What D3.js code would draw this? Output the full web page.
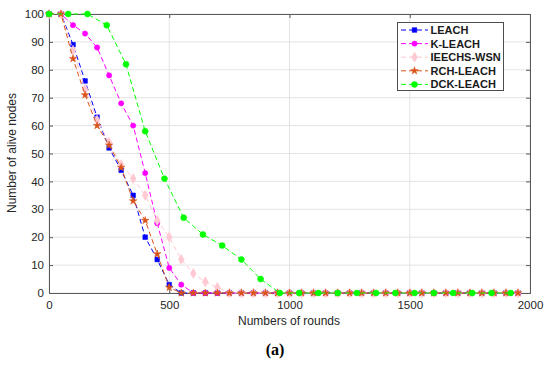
<!DOCTYPE html>
<html><head><meta charset="utf-8">
<script src="https://cdn.jsdelivr.net/npm/d3@7"></script>
<style>body{margin:0;background:#fff;} svg{display:block;font-family:"Liberation Sans",Arial,sans-serif;}</style>
</head><body>
<script>
const rounds50 = [0,50,100,150,200,250,300,350,400,450,500,550,600,650,700,750,800,850,900,950,1000,1050,1100,1150,1200,1250,1300,1350,1400,1450,1500,1550,1600,1650,1700,1750,1800,1850,1900,1950];
const rounds80 = [0,80,160,240,320,400,480,560,640,720,800,880,960,1040,1120,1200,1280,1360,1440,1520,1600,1680,1760,1840,1920];
const leach   = [100,100,89,76,63,52,44,35,20,12,3,0,0,0,0,0,0,0,0,0,0,0,0,0,0,0,0,0,0,0,0,0,0,0,0,0,0,0,0,0];
const kleach  = [100,100,96,93,88,78,68,60,43,25,9,3,0,0,0,0,0,0,0,0,0,0,0,0,0,0,0,0,0,0,0,0,0,0,0,0,0,0,0,0];
const ieechs  = [100,100,87,73,62,54,46,41,35,26,20,12,7,4,2,0,0,0,0,0,0,0,0,0,0,0,0,0,0,0,0,0,0,0,0,0,0,0,0,0];
const rch     = [100,100,84,71,60,53,45,33,26,14,2,0,0,0,0,0,0,0,0,0,0,0,0,0,0,0,0,0,0,0,0,0,0,0,0,0,0,0,0,0];
const dck     = [100,100,100,96,82,58,41,27,21,17,12,5,0,0,0,0,0,0,0,0,0,0,0,0,0];
const seriesNames = ["LEACH","K-LEACH","IEECHS-WSN","RCH-LEACH","DCK-LEACH"];
const xTicks = [0,500,1000,1500,2000];
const yTicks = [0,10,20,30,40,50,60,70,80,90,100];

const series = [
  {name:seriesNames[0], x:rounds50, y:leach,  color:"#0000ff", sym:d3.symbolSquare, size:22},
  {name:seriesNames[1], x:rounds50, y:kleach, color:"#ff00ff", sym:d3.symbolCircle, size:22},
  {name:seriesNames[2], x:rounds50, y:ieechs, color:"#ffc8d2", sym:d3.symbolDiamond, size:30},
  {name:seriesNames[3], x:rounds50, y:rch,    color:"#d95319", sym:d3.symbolStar, size:18},
  {name:seriesNames[4], x:rounds80, y:dck,    color:"#00ff00", sym:d3.symbolCircle, size:28}
];

const W=550,H=365, L=49, R=530, T=14, B=293;
const svg=d3.select("body").append("svg").attr("width",W).attr("height",H);
svg.append("rect").attr("width",W).attr("height",H).attr("fill","#fff");
const x=d3.scaleLinear().domain([0,2000]).range([L,R]);
const y=d3.scaleLinear().domain([0,100]).range([B,T]);

// grid
const g=svg.append("g");
g.selectAll(".gx").data(xTicks).enter().append("line")
 .attr("x1",d=>x(d)).attr("x2",d=>x(d)).attr("y1",T).attr("y2",B)
 .attr("stroke","#e3e3e3").attr("stroke-width",1);
g.selectAll(".gy").data(yTicks).enter().append("line")
 .attr("x1",L).attr("x2",R).attr("y1",d=>y(d)).attr("y2",d=>y(d))
 .attr("stroke","#e3e3e3").attr("stroke-width",1);

// axes
const axCol="#5a5a5a";
const fmt=d3.format("d");
const xa=svg.append("g").attr("transform",`translate(0,${B})`).call(d3.axisBottom(x).tickValues(xTicks).tickFormat(fmt).tickSize(-4).tickPadding(8));
const xt=svg.append("g").attr("transform",`translate(0,${T})`).call(d3.axisTop(x).tickValues(xTicks).tickSize(-4).tickFormat(""));
const ya=svg.append("g").attr("transform",`translate(${L},0)`).call(d3.axisLeft(y).tickValues(yTicks).tickFormat(fmt).tickSize(-4).tickPadding(5));
const yr=svg.append("g").attr("transform",`translate(${R},0)`).call(d3.axisRight(y).tickValues(yTicks).tickSize(-4).tickFormat(""));
[xa,xt,ya,yr].forEach(a=>{
  a.select(".domain").attr("stroke",axCol);
  a.selectAll(".tick line").attr("stroke",axCol);
  a.selectAll("text").attr("fill","#262626").style("font-size","11.5px").style("font-family","'Liberation Sans',Arial,sans-serif");
});

// lines & markers
const plot=svg.append("g");
series.forEach(s=>{
  const pts=s.x.map((v,i)=>[v,s.y[i]]);
  plot.append("path").datum(pts)
   .attr("d",d3.line().x(d=>x(d[0])).y(d=>y(d[1])))
   .attr("fill","none").attr("stroke",s.color).attr("stroke-width",1)
   .attr("stroke-dasharray","5,3");
  plot.selectAll(null).data(pts).enter().append("path")
   .attr("transform",d=>`translate(${x(d[0])},${y(d[1])})`)
   .attr("d",d3.symbol().type(s.sym).size(s.size))
   .attr("fill",s.color).attr("stroke",s.color).attr("stroke-width",0.5);
});

// legend
const lg=svg.append("g");
lg.append("rect").attr("x",397.5).attr("y",22.5).attr("width",106).attr("height",68)
 .attr("fill","#fff").attr("stroke","#4d4d4d").attr("stroke-width",1);
series.forEach((s,i)=>{
  const yy=30+i*13.6;
  lg.append("line").attr("x1",401).attr("x2",428).attr("y1",yy).attr("y2",yy)
   .attr("stroke",s.color).attr("stroke-width",1).attr("stroke-dasharray","5,3");
  lg.append("path").attr("transform",`translate(414.5,${yy})`)
   .attr("d",d3.symbol().type(s.sym).size(s.size)).attr("fill",s.color).attr("stroke",s.color).attr("stroke-width",0.5);
  lg.append("text").attr("x",430.5).attr("y",yy+4).text(s.name)
   .attr("fill","#1a1a1a").style("font-size","11px").style("font-weight","bold");
});

// labels
svg.append("text").attr("transform","translate(16,153) rotate(-90)").attr("text-anchor","middle")
 .attr("fill","#262626").style("font-size","12px").text("Number of alive nodes");
svg.append("text").attr("x",289).attr("y",325).attr("text-anchor","middle")
 .attr("fill","#262626").style("font-size","12px").text("Numbers of rounds");
svg.append("text").attr("x",275).attr("y",355).attr("text-anchor","middle")
 .attr("fill","#000").style("font-size","16px").style("font-weight","bold")
 .style("font-family","'Liberation Serif','DejaVu Serif',serif").text("(a)");
</script>
</body></html>
